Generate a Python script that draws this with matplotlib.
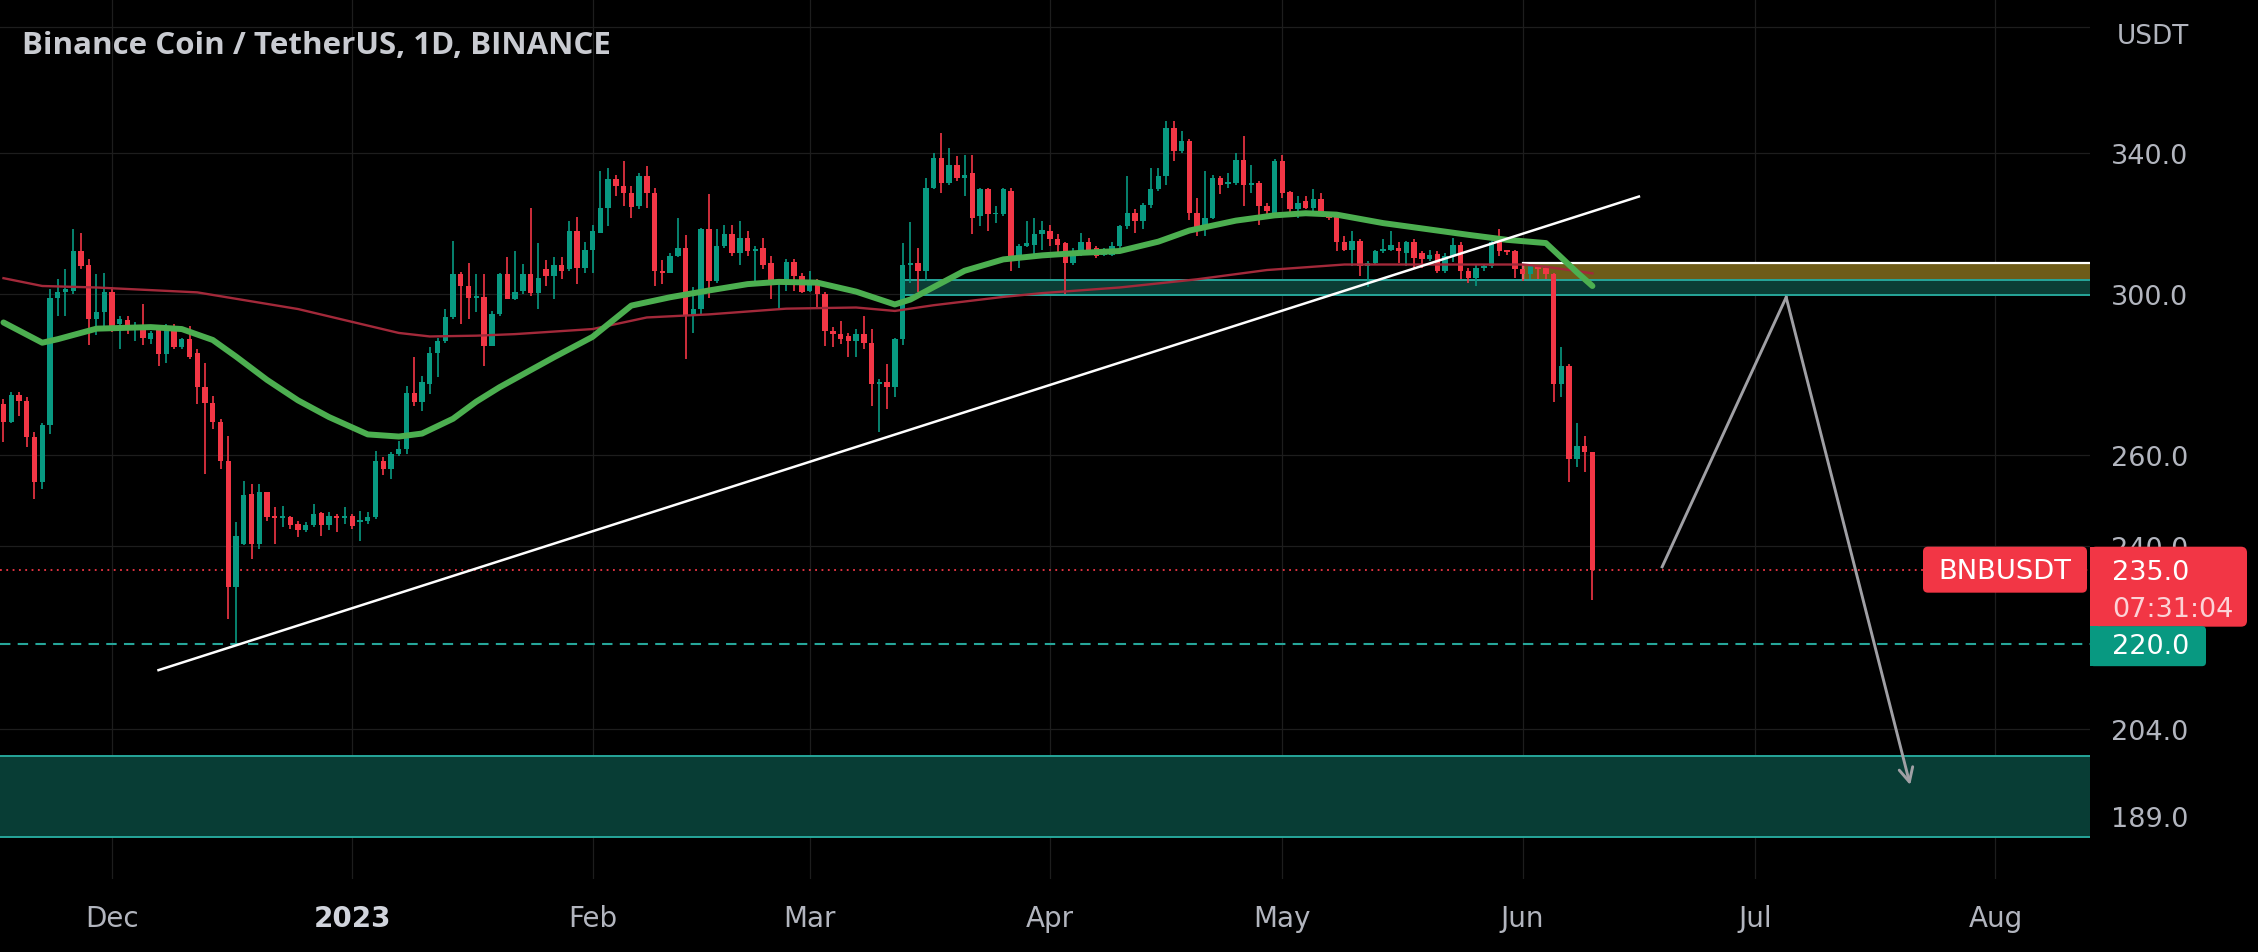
import matplotlib
matplotlib.use("Agg")
import matplotlib.pyplot as plt
import matplotlib.dates as mdates
import matplotlib.ticker as mticker
from matplotlib.patches import Rectangle, FancyBboxPatch
from matplotlib.transforms import Affine2D
import numpy as np
import pandas as pd

# BNB/USDT daily candles, 17 Nov 2022 .. 10 Jun 2023
start = "2022-11-17"
opens = [
    272.1, 267.9, 274.3, 272.9, 264.2, 253.9, 267.0, 299.0, 300.4, 300.8,
    311.6, 307.7, 293.3, 295.2, 300.5, 292.2, 293.1, 290.8, 291.6, 288.2,
    290.8, 284.4, 291.2, 286.1, 288.2, 284.6, 276.2, 272.3, 267.8, 258.8,
    231.4, 240.4, 251.3, 240.4, 251.7, 246.4, 246.0, 246.2, 244.7, 243.3,
    244.5, 247.1, 244.5, 246.5, 246.0, 246.5, 245.1, 245.4, 246.2, 258.8,
    256.8, 260.3, 261.5, 274.9, 272.5, 277.0, 284.8, 287.8, 293.8, 305.2,
    302.1, 299.0, 299.3, 286.5, 294.6, 305.2, 298.7, 300.8, 305.2, 300.3,
    306.6, 304.8, 307.9, 306.6, 317.1, 307.0, 312.0, 316.7, 323.8, 332.2,
    330.0, 328.1, 324.2, 333.0, 328.1, 306.1, 305.6, 310.2, 312.5, 294.2,
    295.9, 317.6, 303.4, 313.1, 316.4, 311.1, 315.3, 311.6, 312.5, 308.2,
    302.5, 303.0, 308.7, 304.8, 300.8, 303.4, 300.0, 290.3, 289.5, 289.1,
    287.8, 289.5, 287.2, 276.9, 277.5, 276.2, 288.2, 307.9, 308.4, 306.1,
    329.5, 338.4, 331.0, 336.4, 332.5, 333.9, 321.4, 329.1, 321.9, 321.9,
    328.6, 310.2, 313.1, 313.4, 316.4, 317.1, 314.8, 313.8, 308.4, 310.6,
    314.0, 312.5, 310.6, 310.6, 313.1, 318.5, 322.3, 320.0, 324.7, 329.1,
    333.0, 347.6, 340.4, 343.4, 322.3, 317.6, 320.9, 332.5, 330.7, 331.0,
    337.9, 330.4, 331.0, 324.2, 321.4, 337.4, 328.3, 323.3, 325.7, 323.8,
    326.2, 321.9, 321.4, 314.0, 312.0, 314.3, 307.5, 308.4, 311.6, 312.0,
    312.5, 311.1, 314.0, 311.1, 309.5, 310.9, 306.1, 310.2, 313.4, 306.1,
    304.3, 307.0, 307.5, 314.5, 311.8, 311.6, 306.6, 305.2, 307.5, 307.0,
    305.2, 277.0, 281.5, 259.2, 262.3, 260.7,
]
highs = [
    273.3, 275.1, 275.0, 273.7, 265.4, 267.7, 301.4, 303.9, 306.6, 317.8,
    316.7, 309.3, 305.2, 305.5, 301.9, 294.2, 294.2, 292.6, 297.2, 290.3,
    291.2, 292.1, 292.1, 288.6, 291.6, 285.7, 282.3, 274.0, 268.5, 264.6,
    245.1, 254.3, 253.5, 253.5, 251.8, 248.4, 248.7, 246.5, 245.4, 245.2,
    249.1, 247.4, 247.3, 246.9, 248.4, 246.9, 247.6, 247.3, 261.1, 259.6,
    260.7, 263.4, 276.6, 283.6, 279.0, 286.1, 288.6, 296.1, 314.3, 305.9,
    308.2, 305.4, 305.2, 295.5, 305.7, 310.0, 311.6, 308.0, 323.8, 313.9,
    309.1, 310.0, 310.0, 320.0, 321.0, 314.0, 319.0, 334.5, 335.5, 333.4,
    337.4, 330.0, 334.0, 336.0, 329.5, 309.1, 311.1, 320.9, 316.0, 301.7,
    317.9, 327.6, 317.6, 319.0, 319.0, 319.9, 317.1, 313.1, 315.3, 310.2,
    303.9, 309.3, 309.3, 305.7, 306.1, 303.9, 300.5, 291.2, 293.0, 289.9,
    290.8, 294.2, 290.8, 278.2, 281.9, 288.6, 313.9, 319.6, 312.5, 332.5,
    339.9, 345.9, 341.4, 338.9, 339.4, 339.4, 329.5, 329.5, 324.2, 329.5,
    329.5, 313.5, 320.0, 320.9, 320.0, 319.0, 316.4, 314.0, 312.5, 316.7,
    315.3, 313.1, 312.5, 314.0, 319.0, 333.0, 323.3, 325.2, 335.5, 335.5,
    349.6, 349.6, 346.5, 344.0, 326.6, 334.5, 333.4, 333.0, 334.0, 339.9,
    344.9, 336.4, 331.5, 325.2, 338.1, 339.4, 328.6, 327.1, 327.1, 329.1,
    328.1, 322.3, 321.9, 315.7, 317.1, 314.8, 308.9, 312.0, 314.8, 317.1,
    314.0, 314.3, 314.8, 311.6, 312.0, 311.6, 311.1, 315.3, 314.0, 307.0,
    307.9, 307.9, 314.5, 317.6, 312.0, 312.0, 307.9, 307.9, 307.9, 307.5,
    305.7, 286.1, 281.9, 267.7, 264.6, 260.7,
]
lows = [
    263.2, 267.6, 269.3, 261.9, 250.2, 252.4, 265.0, 294.2, 294.2, 300.0,
    306.6, 286.7, 289.2, 291.2, 290.0, 285.7, 289.5, 287.8, 286.6, 286.9,
    281.5, 282.3, 285.7, 285.7, 283.1, 272.1, 255.8, 266.2, 256.9, 225.0,
    220.2, 240.1, 237.3, 239.4, 245.4, 240.4, 244.0, 243.6, 241.9, 242.9,
    244.0, 242.1, 243.5, 242.9, 244.7, 243.6, 241.1, 244.7, 245.8, 255.5,
    254.7, 259.9, 260.3, 271.7, 270.5, 274.5, 278.6, 287.3, 293.3, 292.0,
    293.3, 295.1, 281.5, 286.5, 294.2, 298.6, 298.4, 300.0, 299.4, 295.9,
    302.1, 298.6, 303.9, 306.1, 302.5, 305.7, 305.7, 316.7, 318.5, 327.1,
    324.2, 320.9, 323.3, 323.8, 302.1, 302.5, 305.6, 310.0, 283.2, 289.9,
    294.6, 299.0, 303.0, 312.5, 310.2, 307.9, 310.2, 303.0, 306.6, 298.6,
    296.1, 300.8, 300.8, 300.2, 300.4, 296.4, 286.5, 286.1, 286.9, 283.6,
    283.6, 285.7, 271.7, 265.4, 270.9, 273.7, 286.6, 303.0, 300.4, 303.4,
    329.1, 328.1, 330.4, 331.5, 327.1, 316.2, 318.5, 317.1, 319.5, 321.5,
    306.1, 307.0, 312.8, 310.2, 312.0, 313.1, 311.1, 300.0, 307.9, 310.2,
    310.6, 309.8, 310.2, 310.2, 312.5, 317.6, 316.7, 317.6, 323.8, 328.6,
    330.4, 337.4, 339.9, 320.4, 315.7, 315.7, 320.5, 327.6, 329.5, 330.4,
    324.2, 328.1, 319.0, 320.9, 320.9, 326.6, 321.9, 320.9, 323.3, 322.3,
    321.5, 320.4, 311.6, 311.6, 307.6, 304.8, 301.7, 307.9, 311.1, 311.6,
    308.4, 307.5, 306.6, 307.0, 308.9, 305.6, 305.6, 308.7, 303.9, 302.9,
    302.1, 306.1, 307.0, 310.2, 310.6, 304.3, 303.4, 303.9, 303.9, 303.9,
    272.5, 273.7, 253.9, 257.3, 256.2, 228.7,
]
closes = [
    267.9, 274.3, 272.9, 264.2, 253.9, 267.0, 299.0, 300.4, 301.2, 311.6,
    307.5, 293.3, 295.2, 300.5, 291.6, 293.3, 290.6, 291.6, 288.4, 289.9,
    284.4, 291.6, 286.1, 288.2, 283.8, 276.2, 272.3, 267.8, 258.8, 231.4,
    242.2, 251.1, 240.4, 251.7, 246.2, 246.0, 246.5, 244.5, 243.3, 244.5,
    246.9, 244.5, 246.5, 246.0, 246.4, 244.3, 245.4, 246.2, 258.8, 256.8,
    260.3, 261.5, 274.9, 272.5, 277.4, 284.8, 287.8, 293.8, 305.2, 302.2,
    299.0, 299.3, 286.5, 294.6, 305.2, 298.7, 300.5, 305.2, 300.3, 304.3,
    304.8, 307.9, 306.1, 317.1, 307.0, 312.0, 317.1, 323.8, 332.2, 330.0,
    328.1, 324.1, 333.0, 328.1, 306.1, 305.6, 310.2, 312.5, 294.2, 295.9,
    317.6, 303.4, 313.1, 316.4, 311.1, 315.3, 311.6, 312.0, 307.9, 302.5,
    303.0, 308.7, 304.8, 300.4, 303.4, 300.0, 290.3, 289.5, 288.2, 287.8,
    289.5, 287.2, 276.9, 277.4, 276.2, 288.2, 307.9, 308.4, 306.1, 329.5,
    338.4, 331.0, 336.4, 332.5, 333.4, 320.9, 329.1, 321.9, 322.3, 329.1,
    310.2, 313.1, 313.8, 316.4, 317.4, 314.8, 313.4, 308.4, 310.2, 314.0,
    312.0, 310.2, 311.3, 313.1, 318.5, 322.3, 320.0, 324.7, 329.1, 333.0,
    347.6, 340.4, 343.4, 322.3, 317.6, 320.9, 332.5, 330.4, 331.1, 337.9,
    330.4, 331.0, 324.2, 322.8, 337.4, 328.1, 323.3, 325.2, 323.8, 326.2,
    321.9, 320.9, 314.0, 312.0, 314.3, 307.5, 308.4, 311.6, 312.0, 313.4,
    311.6, 314.0, 309.8, 309.5, 310.6, 306.1, 310.2, 313.4, 306.1, 304.3,
    307.0, 307.5, 314.0, 311.6, 311.3, 306.6, 305.2, 307.5, 306.6, 305.2,
    277.0, 281.5, 259.2, 262.3, 260.7, 235.0,
]

# moving averages as drawn on the chart (day offset from start, price)
ma_fast_day = [0, 5, 7, 12, 19, 23, 27, 30, 34, 38, 42, 47, 51, 54, 58, 61,
               64, 71, 76, 81, 86, 91, 96, 100, 105, 110, 115, 117, 120, 124,
               129, 134, 139, 144, 149, 153, 159, 164, 168, 172, 178, 183, 189,
               194, 199, 201, 203, 205]
ma_fast = [292.5, 287.3, 288.2, 290.9, 291.3, 290.8, 288.0, 283.8, 278.0,
           273.0, 269.0, 264.9, 264.4, 265.1, 268.6, 272.7, 276.2, 283.6,
           288.8, 296.9, 299.1, 300.9, 302.6, 303.2, 303.0, 300.6, 297.2,
           298.5, 301.8, 306.2, 309.3, 310.4, 311.1, 311.6, 314.2, 317.3,
           320.1, 321.6, 322.2, 321.8, 319.4, 317.9, 316.1, 314.7, 313.8,
           309.8, 305.8, 302.1]
ma_slow_day = [0, 5, 12, 25, 38, 51, 55, 61, 66, 76, 83, 91, 101, 110, 115,
               120, 129, 134, 144, 154, 163, 173, 183, 196, 199, 203, 205]
ma_slow = [304.2, 302.1, 301.7, 300.4, 296.0, 289.8, 288.9, 289.1, 289.5,
           290.8, 293.8, 294.6, 296.1, 296.4, 295.5, 297.0, 299.2, 300.2,
           301.7, 303.9, 306.4, 307.9, 307.9, 307.9, 307.3, 306.1, 305.5]

price_ticks = [340, 300, 260, 240, 204, 189]
grid_levels = [380, 340, 300, 260, 240, 204, 189]
month_starts = ["2022-12-01", "2023-01-01", "2023-02-01", "2023-03-01", "2023-04-01",
                "2023-05-01", "2023-06-01", "2023-07-01", "2023-08-01"]
month_labels = ["Dec", "2023", "Feb", "Mar", "Apr", "May", "Jun", "Jul", "Aug"]

last_price = 235.0
level_220 = 220.0
support_zone = (299.8, 303.7)
support_from = "2023-03-13"
resist_zone = (303.3, 308.4)
resist_from = "2023-06-01"
target_zone = (185.4, 199.2)
trend_dates = ["2022-12-07", "2023-06-16"]
trend_prices = [215.0, 327.0]
path_dates = ["2023-06-19", "2023-07-05", "2023-07-21"]
path_prices = [235.6, 299.1, 194.2]

GREEN = "#089981"
RED = "#f23645"
TEAL = "#26a69a"
TXT = "#b2b5be"

W, H = 2258, 953
fig = plt.figure(figsize=(W / 100, H / 100), dpi=100, facecolor="black")
ax = fig.add_axes([0, (H - 880) / H, 2090 / W, 880 / H])
ax.set_facecolor("black")
for s in ax.spines.values():
    s.set_visible(False)

o = np.array(opens); h = np.array(highs); l = np.array(lows); c = np.array(closes)
dates = pd.date_range(start, periods=len(o), freq="D")
x = mdates.date2num(dates)
x0 = x[0]

ax.set_yscale("log")
ax.set_ylim(178.7, 389.5)
ax.set_xlim(x0 - 0.45, x0 + 269.2)

# grid
month_x = mdates.date2num(pd.to_datetime(month_starts))
for mx in month_x:
    ax.axvline(mx, color="#1d1d1d", lw=0.9, zorder=0)
for gl in grid_levels:
    ax.axhline(gl, color="#1d1d1d", lw=0.9, zorder=0)

# zones
xl, xr = ax.get_xlim()
ax.add_patch(Rectangle((xl - 5, target_zone[0]), xr - xl + 10, target_zone[1] - target_zone[0],
                       fc="#083d35", ec=TEAL, lw=1.4, zorder=1))
rx = mdates.date2num(pd.Timestamp(resist_from))
ax.add_patch(Rectangle((rx, resist_zone[0]), xr - rx + 5, resist_zone[1] - resist_zone[0],
                       fc="#6e5c19", ec="white", lw=1.6, zorder=1.1))
sx = mdates.date2num(pd.Timestamp(support_from))
ax.add_patch(Rectangle((sx, support_zone[0]), xr - sx + 5, support_zone[1] - support_zone[0],
                       fc="#0b3d35", ec=TEAL, lw=1.4, zorder=1.2))

ax.axhline(level_220, color=TEAL, lw=1.5, ls=(0, (5, 3.5)), zorder=1.5)
ax.axhline(last_price, color=RED, lw=1.3, ls=(0, (1, 2.5)), zorder=1.5)

# candles
up = c >= o
cols = np.where(up, GREEN, RED)
ax.vlines(x, l, h, colors=cols, lw=1.2, zorder=3)
bot = np.minimum(o, c)
hgt = np.maximum(np.abs(c - o), bot * 0.0015)
ax.bar(x, hgt, bottom=bot, width=0.7, color=cols, lw=0, zorder=3)

# moving averages
ax.plot(x0 + np.array(ma_slow_day), ma_slow, color="#a3293a", lw=1.7, zorder=3.5)
ax.plot(x0 + np.array(ma_fast_day), ma_fast, color="#4caf50", lw=4.3, zorder=4,
        solid_capstyle="round", solid_joinstyle="round")

# drawings
tx = mdates.date2num(pd.to_datetime(trend_dates))
ax.plot(tx, trend_prices, color="white", lw=1.8, zorder=5)
px_ = mdates.date2num(pd.to_datetime(path_dates))
ax.plot(px_[:2], path_prices[:2], color="#a0a0a5", lw=2.1, zorder=5)
ax.annotate("", xy=(px_[2], path_prices[2]), xytext=(px_[1], path_prices[1]),
            arrowprops=dict(arrowstyle="->,head_length=1.0,head_width=0.5",
                            color="#a0a0a5", lw=2.1, shrinkA=0, shrinkB=0),
            zorder=5)

# axes ticks
ax.yaxis.tick_right()
ax.yaxis.set_major_locator(mticker.FixedLocator(price_ticks))
ax.yaxis.set_minor_locator(mticker.NullLocator())
ax.yaxis.set_major_formatter(mticker.FormatStrFormatter("%.1f"))
ax.tick_params(axis="y", which="both", length=0, pad=15, labelsize=19.5, labelcolor=TXT)
ax.set_xticks(month_x, labels=month_labels)
ax.tick_params(axis="x", length=0, pad=18, labelsize=20, labelcolor=TXT)
for lbl in ax.get_xticklabels():
    if lbl.get_text() == "2023":
        lbl.set_fontweight("bold")
        lbl.set_color("#d1d4dc")

# title and price-scale labels (pixel positions, y from the data transform)
fig.text(22 / W, 1 - 54 / H, "Binance Coin / TetherUS, 1D, BINANCE", fontfamily="Open Sans",
         fontweight="bold", fontsize=22.5, color="#c9cbd1", ha="left", va="baseline")
fig.text(2117 / W, 1 - 37 / H, "USDT", fontsize=19, color=TXT, ha="left", va="center")

pxt = Affine2D().scale(1 / W, -1 / H).translate(0, 1) + fig.transFigure


def ypx(p):
    return H - ax.transData.transform((x0, p))[1]


y235 = ypx(last_price)
y220 = ypx(level_220)

fig.add_artist(FancyBboxPatch((1923, y235 - 23), 164, 46, boxstyle="round,pad=0,rounding_size=5",
                              fc=RED, ec="none", transform=pxt))
fig.text(2005, y235 + 1, "BNBUSDT", transform=pxt, ha="center", va="center",
         color="white", fontsize=19.7)

fig.add_artist(FancyBboxPatch((2090, y235 - 23), 157, 80, boxstyle="round,pad=0,rounding_size=6",
                              fc=RED, ec="none", transform=pxt))
fig.add_artist(Rectangle((2090, y235 - 23), 10, 80, fc=RED, ec="none", transform=pxt))
fig.text(2112, y235 + 2, f"{last_price:.1f}", transform=pxt, ha="left", va="center",
         color="white", fontsize=19.5)
fig.text(2112, y235 + 39, "07:31:04", transform=pxt, ha="left", va="center",
         color="#fcd3d7", fontsize=19.5)

fig.add_artist(FancyBboxPatch((2090, y220 - 18), 116, 40, boxstyle="round,pad=0,rounding_size=4",
                              fc=GREEN, ec="none", transform=pxt))
fig.add_artist(Rectangle((2090, y220 - 18), 8, 40, fc=GREEN, ec="none", transform=pxt))
fig.text(2112, y220 + 2, f"{level_220:.1f}", transform=pxt, ha="left", va="center",
         color="white", fontsize=19.5)

fig.savefig("out.png", dpi=100, facecolor="black")
